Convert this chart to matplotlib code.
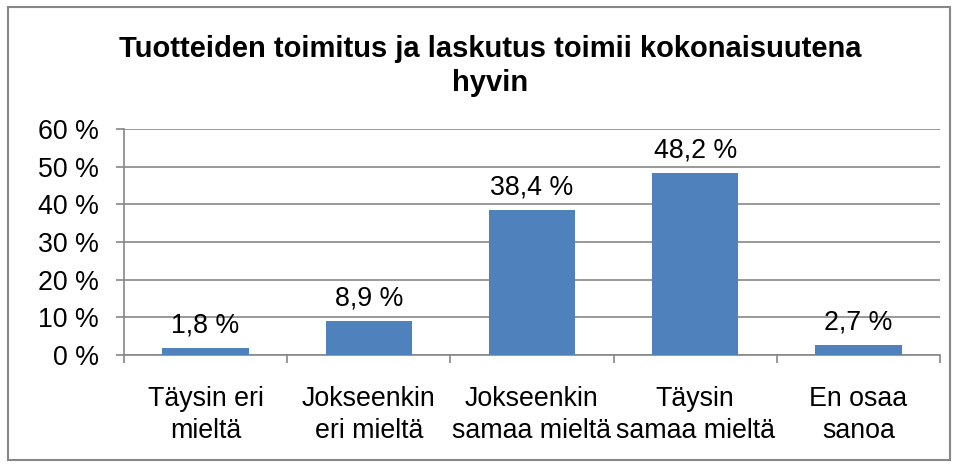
import matplotlib

matplotlib.use("Agg")
import matplotlib.pyplot as plt
from matplotlib.patches import Rectangle

plt.rcParams["font.family"] = ["Liberation Sans", "DejaVu Sans"]

categories = ["Täysin eri\nmieltä", "Jokseenkin\neri mieltä", "Jokseenkin\nsamaa mieltä",
              "Täysin\nsamaa mieltä", "En osaa\nsanoa"]
values = [1.8, 8.9, 38.4, 48.2, 2.7]
yticks = [0, 10, 20, 30, 40, 50, 60]
title = "Tuotteiden toimitus ja laskutus toimii kokonaisuutena\nhyvin"

BAR = "#4F81BD"
GRID = "#878787"
FS = 19.3

fig = plt.figure(figsize=(9.57, 4.66), dpi=100)
ax = fig.add_axes([124 / 957, 1 - 355 / 466, 816 / 957, 226 / 466])

x = list(range(len(values)))
ax.bar(x, values, width=0.53, color=BAR, zorder=3)
for xi, v in zip(x, values):
    ax.annotate(f"{v:.1f} %".replace(".", ","), (xi, v), xytext=(0, 7),
                textcoords="offset points", ha="center", va="bottom", fontsize=FS)

ax.set_xlim(-0.5, len(values) - 0.5)
ax.set_ylim(0, 60)
ax.set_yticks(yticks)
ax.set_yticklabels([f"{t} %" for t in yticks], fontsize=FS)
ax.yaxis.grid(True, color=GRID, linewidth=1.2, zorder=0)
ax.tick_params(axis="y", length=6, width=1.2, color=GRID, pad=12)

ax.set_xticks([i - 0.5 for i in range(len(values) + 1)])
ax.set_xticklabels([])
ax.set_xticks(x, minor=True)
ax.set_xticklabels(categories, minor=True, fontsize=FS, linespacing=1.3)
ax.tick_params(axis="x", which="major", length=6, width=1.2, color=GRID)
ax.tick_params(axis="x", which="minor", length=0, pad=22)

for side in ["top", "right"]:
    ax.spines[side].set_visible(False)
for side in ["left", "bottom"]:
    ax.spines[side].set_color(GRID)
    ax.spines[side].set_linewidth(1.2)

fig.text(490 / 957, 1 - 66 / 466, title, ha="center", va="center",
         fontsize=21, fontweight="bold", linespacing=1.3)

fig.patches.append(Rectangle((8 / 957, 1 - 460 / 466), 942 / 957, 453 / 466,
                             transform=fig.transFigure, fill=False,
                             edgecolor=GRID, linewidth=1.5))

fig.savefig("out.png", dpi=100)
